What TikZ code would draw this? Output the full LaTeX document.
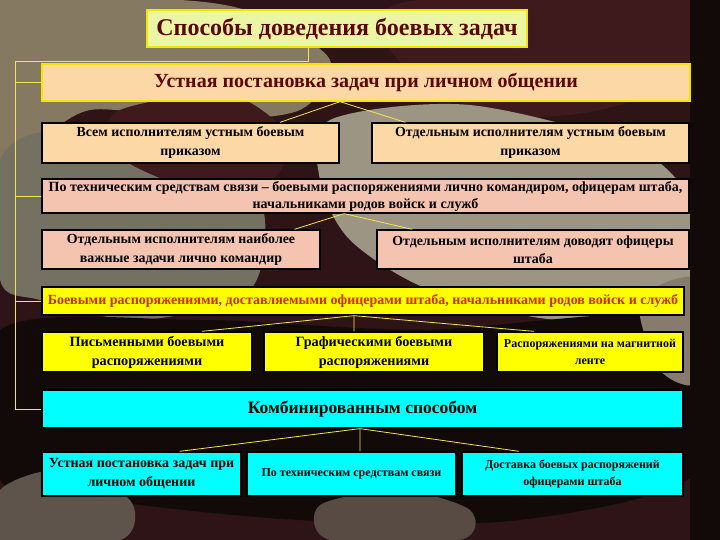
\documentclass[tikz,border=0pt]{standalone}
\usepackage{fontspec}
\setmainfont{Liberation Serif}
\usetikzlibrary{calc}
\definecolor{bgdark}{HTML}{2E1416}
\definecolor{camotan}{HTML}{867962}
\definecolor{camogrey}{HTML}{747062}
\definecolor{camolight}{HTML}{9C9583}
\definecolor{camomaroon}{HTML}{3E1A1C}
\definecolor{camoblack}{HTML}{120909}
\definecolor{titlefill}{HTML}{EAF6A4}
\definecolor{peach}{HTML}{FCD8A6}
\definecolor{salmon}{HTML}{F4C4B0}
\definecolor{yel}{HTML}{FFFF00}
\definecolor{cyanb}{HTML}{00FFFF}
\definecolor{maroontext}{HTML}{5C0606}
\definecolor{redtext}{HTML}{D02A00}
\definecolor{linecol}{HTML}{F2E64A}
\definecolor{yborder}{HTML}{F5E600}
\begin{document}
\begin{tikzpicture}[x=1pt,y=-1pt,
  box/.style={draw=black, line width=1.3pt, font=\bfseries, align=center, inner sep=1pt, text=black},
  conn/.style={draw=linecol, line width=0.8pt}]
\useasboundingbox (0,0) rectangle (720,540);
% ---------- camouflage background ----------
\fill[bgdark] (0,0) rectangle (720,540);
\fill[camotan] plot[smooth cycle] coordinates {(0,0) (180,0) (260,15) (330,60) (300,110) (200,120) (90,110) (30,150) (0,170)};
\fill[camomaroon] plot[smooth cycle] coordinates {(420,0) (700,0) (700,70) (600,110) (500,115) (420,80) (380,30)};
\fill[camogrey] plot[smooth cycle] coordinates {(0,160) (60,130) (180,160) (260,200) (250,290) (140,320) (40,300) (0,280)};
\fill[camolight] plot[smooth cycle] coordinates {(330,120) (470,105) (640,150) (700,220) (680,300) (560,320) (430,290) (350,240) (320,180)};
\fill[camomaroon] plot[smooth cycle] coordinates {(120,110) (230,95) (290,140) (260,190) (180,185) (110,150)};
\fill[camoblack] plot[smooth cycle] coordinates {(0,330) (200,320) (420,330) (700,320) (700,470) (520,520) (300,520) (100,500) (0,480)};
\fill[camogrey!70!bgdark] plot[smooth cycle] coordinates {(0,490) (60,470) (130,500) (120,540) (0,540)};
\fill[camogrey!60!bgdark] plot[smooth cycle] coordinates {(320,505) (400,490) (470,510) (460,540) (330,540)};
\fill[camolight!80!bgdark] plot[smooth cycle] coordinates {(640,300) (700,280) (700,380) (660,370)};
\fill[camoblack] (690,0) rectangle (720,540);
% ---------- boxes ----------
\node[box, draw=yborder, fill=titlefill, text=maroontext, minimum width=380, minimum height=37, font=\bfseries\fontsize{24}{26}\selectfont] (title) at (337,28.5) {Способы доведения боевых задач};
\node[box, draw=yborder, fill=peach, text=maroontext, minimum width=648, minimum height=37, font=\bfseries\fontsize{20}{22}\selectfont] (b2) at (366,82.5) {Устная постановка задач при личном общении};
\node[box, fill=peach, minimum width=297, minimum height=40, font=\bfseries\fontsize{13.9}{19}\selectfont] (b3a) at (190.5,143) {Всем исполнителям устным боевым\\приказом};
\node[box, fill=peach, minimum width=317, minimum height=40, font=\bfseries\fontsize{13.9}{19}\selectfont] (b3b) at (530.5,143) {Отдельным исполнителям устным боевым\\приказом};
\node[box, fill=salmon, minimum width=647, minimum height=34, font=\bfseries\fontsize{14}{17}\selectfont] (b4) at (365.5,196) {По техническим средствам связи – боевыми распоряжениями лично командиром, офицерам штаба,\\начальниками родов войск и служб};
\node[box, fill=salmon, minimum width=278, minimum height=39, font=\bfseries\fontsize{13.9}{18.5}\selectfont] (b5a) at (181,249.5) {Отдельным исполнителям наиболее\\важные задачи лично командир};
\node[box, fill=salmon, minimum width=312, minimum height=39, font=\bfseries\fontsize{13.9}{18.5}\selectfont] (b5b) at (533,249.5) {Отдельным исполнителям доводят офицеры\\штаба};
\node[box, fill=yel, text=redtext, minimum width=642, minimum height=28, font=\bfseries\fontsize{14}{15}\selectfont] (b6) at (363,301) {Боевыми распоряжениями, доставляемыми офицерами штаба, начальниками родов войск и служб};
\node[box, fill=yel, minimum width=210, minimum height=40, font=\bfseries\fontsize{14.2}{19}\selectfont] (b7a) at (147,352) {Письменными боевыми\\распоряжениями};
\node[box, fill=yel, minimum width=220, minimum height=40, font=\bfseries\fontsize{14.2}{19}\selectfont] (b7b) at (374,352) {Графическими боевыми\\распоряжениями};
\node[box, fill=yel, minimum width=186, minimum height=40, font=\bfseries\fontsize{12}{17}\selectfont] (b7c) at (590,352) {Распоряжениями на магнитной\\ленте};
\node[box, fill=cyanb, minimum width=641, minimum height=38, font=\bfseries\fontsize{17.5}{19}\selectfont] (b8) at (362.5,409) {Комбинированным способом};
\node[box, fill=cyanb, minimum width=199, minimum height=44, font=\bfseries\fontsize{14}{19}\selectfont] (b9a) at (141.5,474) {Устная постановка задач при\\личном общении};
\node[box, fill=cyanb, minimum width=209, minimum height=44, font=\bfseries\fontsize{12}{14}\selectfont] (b9b) at (351.5,474) {По техническим средствам связи};
\node[box, fill=cyanb, minimum width=221, minimum height=44, font=\bfseries\fontsize{12}{17}\selectfont] (b9c) at (572.5,474) {Доставка боевых распоряжений\\офицерами штаба};
% ---------- connectors ----------
\coordinate (tl) at (15,61);
\draw[conn] ($(title.south west)!0.426!(title.south east)$) |- (tl) |- (b8.west);
\draw[conn] (tl |- b2.west) -- (b2.west);
\draw[conn] (tl |- b4.west) -- (b4.west);
\draw[conn] (tl |- b6.west) -- (b6.west);
\draw[conn] ($(b2.south west)!0.46!(b2.south east)$) coordinate (s2) -- ($(b3a.north west)!0.80!(b3a.north east)$);
\draw[conn] (s2) -- ($(b3b.north west)!0.107!(b3b.north east)$);
\draw[conn] ($(b4.south west)!0.467!(b4.south east)$) coordinate (s4) -- ($(b5a.north west)!0.906!(b5a.north east)$);
\draw[conn] (s4) -- ($(b5b.north west)!0.115!(b5b.north east)$);
\draw[conn] ($(b6.south west)!0.486!(b6.south east)$) coordinate (s6) -- ($(b7a.north west)!0.76!(b7a.north east)$);
\draw[conn] (s6) -- ($(b7b.north west)!0.41!(b7b.north east)$);
\draw[conn] (s6) -- ($(b7c.north west)!0.2!(b7c.north east)$);
\draw[conn] ($(b8.south west)!0.496!(b8.south east)$) coordinate (s8) -- ($(b9a.north west)!0.69!(b9a.north east)$);
\draw[conn] (s8) -- ($(b9b.north west)!0.54!(b9b.north east)$);
\draw[conn] (s8) -- ($(b9c.north west)!0.26!(b9c.north east)$);
\end{tikzpicture}
\end{document}
